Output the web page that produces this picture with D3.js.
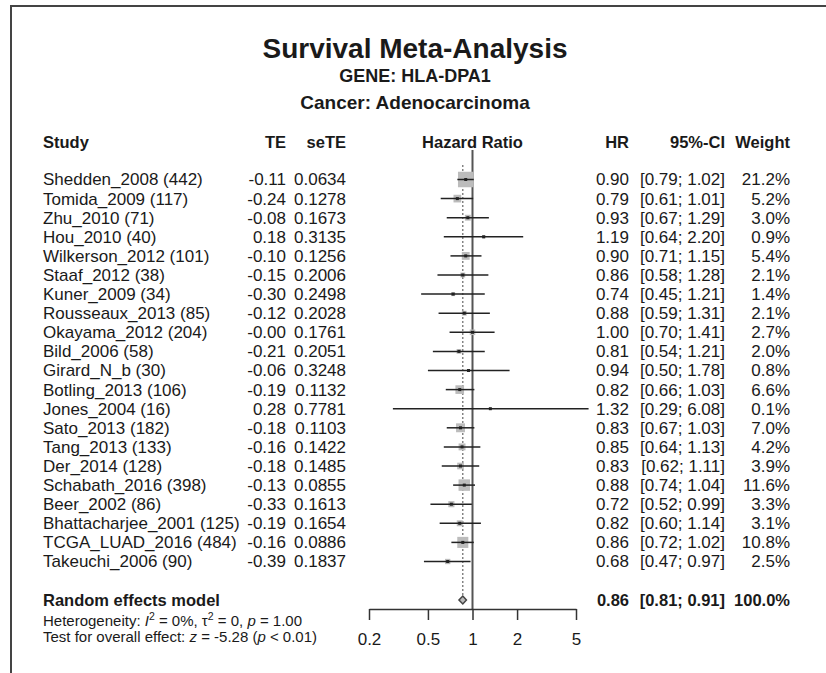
<!DOCTYPE html>
<html>
<head>
<meta charset="utf-8">
<script src="https://cdn.jsdelivr.net/npm/d3@7"></script>
<style>
  body { margin: 0; background: #fff; }
  svg text { font-family: "Liberation Sans", Arial, Helvetica, sans-serif; fill: #1a1a1a; }
</style>
</head>
<body>
<div id="forest"></div>
<script>
// Data
const studies = ["Shedden_2008 (442)", "Tomida_2009 (117)", "Zhu_2010 (71)", "Hou_2010 (40)",
  "Wilkerson_2012 (101)", "Staaf_2012 (38)", "Kuner_2009 (34)", "Rousseaux_2013 (85)",
  "Okayama_2012 (204)", "Bild_2006 (58)", "Girard_N_b (30)", "Botling_2013 (106)",
  "Jones_2004 (16)", "Sato_2013 (182)", "Tang_2013 (133)", "Der_2014 (128)",
  "Schabath_2016 (398)", "Beer_2002 (86)", "Bhattacharjee_2001 (125)", "TCGA_LUAD_2016 (484)",
  "Takeuchi_2006 (90)"];
const te = ["-0.11", "-0.24", "-0.08", "0.18", "-0.10", "-0.15", "-0.30", "-0.12", "-0.00", "-0.21",
  "-0.06", "-0.19", "0.28", "-0.18", "-0.16", "-0.18", "-0.13", "-0.33", "-0.19", "-0.16", "-0.39"];
const seTE = ["0.0634", "0.1278", "0.1673", "0.3135", "0.1256", "0.2006", "0.2498", "0.2028", "0.1761",
  "0.2051", "0.3248", "0.1132", "0.7781", "0.1103", "0.1422", "0.1485", "0.0855", "0.1613", "0.1654",
  "0.0886", "0.1837"];
const hr = [0.90, 0.79, 0.93, 1.19, 0.90, 0.86, 0.74, 0.88, 1.00, 0.81, 0.94, 0.82, 1.32, 0.83, 0.85,
  0.83, 0.88, 0.72, 0.82, 0.86, 0.68];
const lower = [0.79, 0.61, 0.67, 0.64, 0.71, 0.58, 0.45, 0.59, 0.70, 0.54, 0.50, 0.66, 0.29, 0.67, 0.64,
  0.62, 0.74, 0.52, 0.60, 0.72, 0.47];
const upper = [1.02, 1.01, 1.29, 2.20, 1.15, 1.28, 1.21, 1.31, 1.41, 1.21, 1.78, 1.03, 6.08, 1.03, 1.13,
  1.11, 1.04, 0.99, 1.14, 1.02, 0.97];
const weight = [21.2, 5.2, 3.0, 0.9, 5.4, 2.1, 1.4, 2.1, 2.7, 2.0, 0.8, 6.6, 0.1, 7.0, 4.2, 3.9, 11.6,
  3.3, 3.1, 10.8, 2.5];
const pooled = {hr: 0.86, lower: 0.81, upper: 0.91, weight: 100.0};
const axisTicks = [0.2, 0.5, 1, 2, 5];

// Dimensions
const dims = {width: 826, height: 673};
const col = {study: 43, te: 286, sete: 346, hr: 629, ci: 725, weight: 790};

const rows = studies.map((s, i) => ({
  study: s, te: te[i], sete: seTE[i], hr: hr[i], lower: lower[i], upper: upper[i], weight: weight[i]
}));

// Scales
const x = d3.scaleLog().domain([0.2, 5]).range([369, 576]);
const y = d3.scalePoint().domain(studies).range([179.5, 561.5]);
const side = d3.scaleSqrt().domain([0, 21.2]).range([0, 15.5]);

const fmt = d3.format(".2f");

// SVG
const svg = d3.select('#forest')
  .append('svg')
  .attr('width', dims.width)
  .attr('height', dims.height);

// Frame
svg.append('rect')
  .attr('x', 11).attr('y', 6)
  .attr('width', 900).attr('height', 800)
  .attr('fill', 'none')
  .attr('stroke', '#444')
  .attr('stroke-width', 2);

// Titles
const titles = svg.append('g').attr('class', 'titles')
  .attr('text-anchor', 'middle')
  .style('font-weight', 'bold');
titles.append('text').attr('x', 415).attr('y', 58).style('font-size', '28px').text('Survival Meta-Analysis');
titles.append('text').attr('x', 415).attr('y', 82).style('font-size', '18px').text('GENE: HLA-DPA1');
titles.append('text').attr('x', 415).attr('y', 109).style('font-size', '19px').text('Cancer: Adenocarcinoma');

// Column headers
const headY = 142;
const header = svg.append('g').attr('class', 'header')
  .style('font-weight', 'bold').style('font-size', '16.5px');
[
  {t: 'Study', x: col.study, a: 'start'},
  {t: 'TE', x: col.te, a: 'end'},
  {t: 'seTE', x: col.sete, a: 'end'},
  {t: 'Hazard Ratio', x: x(1), a: 'middle'},
  {t: 'HR', x: col.hr, a: 'end'},
  {t: '95%-CI', x: col.ci, a: 'end'},
  {t: 'Weight', x: col.weight, a: 'end'}
].forEach(h => {
  header.append('text').attr('x', h.x).attr('y', headY).attr('dy', '0.35em')
    .attr('text-anchor', h.a).text(h.t);
});

// Table text
const table = svg.append('g').attr('class', 'table').style('font-size', '17px');
const rowText = table.selectAll('g.row')
  .data(rows)
  .enter()
  .append('g')
    .attr('class', 'row')
    .attr('transform', d => `translate(0, ${y(d.study)})`);

rowText.append('text').attr('x', col.study).attr('dy', '0.35em').text(d => d.study);
rowText.append('text').attr('x', col.te).attr('dy', '0.35em').attr('text-anchor', 'end').text(d => d.te);
rowText.append('text').attr('x', col.sete).attr('dy', '0.35em').attr('text-anchor', 'end').text(d => d.sete);
rowText.append('text').attr('x', col.hr).attr('dy', '0.35em').attr('text-anchor', 'end').text(d => fmt(d.hr));
rowText.append('text').attr('x', col.ci).attr('dy', '0.35em').attr('text-anchor', 'end')
  .text(d => `[${fmt(d.lower)}; ${fmt(d.upper)}]`);
rowText.append('text').attr('x', col.weight).attr('dy', '0.35em').attr('text-anchor', 'end')
  .text(d => `${d.weight.toFixed(1)}%`);

// Pooled row
const pooledY = 600;
const pooledG = svg.append('g').attr('class', 'pooled')
  .style('font-weight', 'bold').style('font-size', '16.5px');
pooledG.append('text').attr('x', col.study).attr('y', pooledY).attr('dy', '0.35em').text('Random effects model');
pooledG.append('text').attr('x', col.hr).attr('y', pooledY).attr('dy', '0.35em').attr('text-anchor', 'end')
  .text(fmt(pooled.hr));
pooledG.append('text').attr('x', col.ci).attr('y', pooledY).attr('dy', '0.35em').attr('text-anchor', 'end')
  .text(`[${fmt(pooled.lower)}; ${fmt(pooled.upper)}]`);
pooledG.append('text').attr('x', col.weight).attr('y', pooledY).attr('dy', '0.35em').attr('text-anchor', 'end')
  .text(`${pooled.weight.toFixed(1)}%`);

// Heterogeneity and test lines
const notes = svg.append('g').attr('class', 'notes').style('font-size', '15px');
const het = notes.append('text').attr('x', col.study).attr('y', 626);
het.append('tspan').text('Heterogeneity: ');
het.append('tspan').style('font-style', 'italic').text('I');
het.append('tspan').attr('dy', -6).style('font-size', '10.5px').text('2');
het.append('tspan').attr('dy', 6).text(' = 0%, τ');
het.append('tspan').attr('dy', -6).style('font-size', '10.5px').text('2');
het.append('tspan').attr('dy', 6).text(' = 0, ');
het.append('tspan').style('font-style', 'italic').text('p');
het.append('tspan').text(' = 1.00');

const test = notes.append('text').attr('x', col.study).attr('y', 642);
test.append('tspan').text('Test for overall effect: ');
test.append('tspan').style('font-style', 'italic').text('z');
test.append('tspan').text(' = -5.28 (');
test.append('tspan').style('font-style', 'italic').text('p');
test.append('tspan').text(' < 0.01)');

// Plot group
const plot = svg.append('g').attr('class', 'plot');

// Reference line at 1
const axisY = 609;
plot.append('line')
  .attr('x1', x(1)).attr('x2', x(1))
  .attr('y1', 150).attr('y2', axisY)
  .attr('stroke', '#555').attr('stroke-width', 2);

// Pooled estimate dotted line
plot.append('line')
  .attr('x1', x(pooled.hr)).attr('x2', x(pooled.hr))
  .attr('y1', 165).attr('y2', pooledY - 4)
  .attr('stroke', '#666').attr('stroke-width', 1.2)
  .attr('stroke-dasharray', '2,2');

// Squares
plot.selectAll('rect.square')
  .data(rows)
  .enter()
  .append('rect')
    .attr('class', 'square')
    .attr('x', d => x(d.hr) - side(d.weight) / 2)
    .attr('y', d => y(d.study) - side(d.weight) / 2)
    .attr('width', d => side(d.weight))
    .attr('height', d => side(d.weight))
    .attr('fill', '#bcbcbc');

// CI lines
plot.selectAll('line.ci')
  .data(rows)
  .enter()
  .append('line')
    .attr('class', 'ci')
    .attr('x1', d => x(d.lower)).attr('x2', d => x(d.upper))
    .attr('y1', d => y(d.study)).attr('y2', d => y(d.study))
    .attr('stroke', '#222').attr('stroke-width', 1.5);

// Point marks
plot.selectAll('rect.point')
  .data(rows)
  .enter()
  .append('rect')
    .attr('class', 'point')
    .attr('x', d => x(d.hr) - 1.5)
    .attr('y', d => y(d.study) - 1.5)
    .attr('width', 3).attr('height', 3)
    .attr('fill', '#222');

// Diamond
const dh = 4;
plot.append('polygon')
  .attr('points', [
    [x(pooled.lower), pooledY], [x(pooled.hr), pooledY - dh],
    [x(pooled.upper), pooledY], [x(pooled.hr), pooledY + dh]
  ].join(' '))
  .attr('fill', '#bcbcbc')
  .attr('stroke', '#444').attr('stroke-width', 1.5);

// Axis
const axis = d3.axisBottom(x)
  .tickValues(axisTicks)
  .tickFormat(d3.format('~g'))
  .tickSize(11)
  .tickSizeOuter(0);

const axisG = plot.append('g')
  .attr('class', 'axis')
  .attr('transform', `translate(0, ${axisY})`)
  .call(axis);
axisG.select('.domain').attr('stroke', '#333').attr('stroke-width', 1.5);
axisG.selectAll('.tick line').attr('stroke', '#333').attr('stroke-width', 1.5);
axisG.selectAll('.tick text')
  .attr('y', 24)
  .style('font-size', '17px')
  .style('font-family', '"Liberation Sans", Arial, sans-serif')
  .attr('fill', '#1a1a1a');
</script>
</body>
</html>
